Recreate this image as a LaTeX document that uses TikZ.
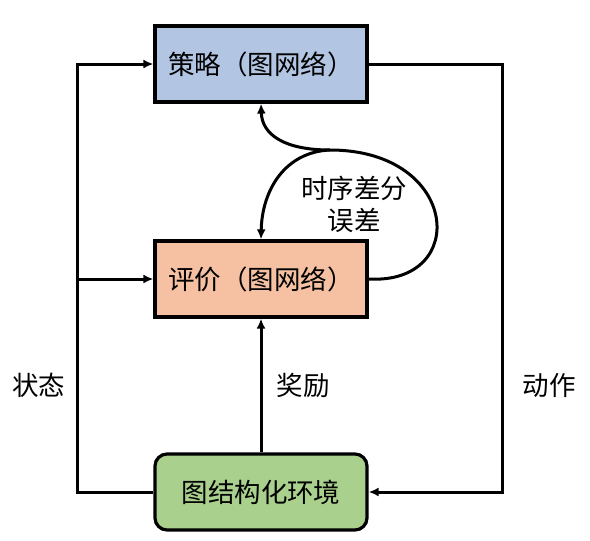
\documentclass[tikz,border=0pt]{standalone}
\usepackage{fontspec}
\newfontfamily\cjk{Noto Sans CJK SC}
\usetikzlibrary{arrows.meta}
\definecolor{polfill}{RGB}{178,197,226}
\definecolor{crifill}{RGB}{245,193,162}
\definecolor{envfill}{RGB}{170,208,142}
\tikzset{
  box/.style={draw=black, line width=3.2pt, minimum width=212pt, minimum height=76pt, inner sep=0pt, font=\cjk\fontsize{26.5}{30}\selectfont},
  conn/.style={line width=3pt, -{Latex[length=10pt,width=9pt]}},
  plain/.style={line width=3pt},
  lbl/.style={font=\cjk\fontsize{26.5}{32}\selectfont, inner sep=0pt, align=center}
}
\begin{document}
\begin{tikzpicture}[x=1pt,y=-1pt]
\useasboundingbox (0,0) rectangle (590,541);
\node[box, fill=polfill] (pol) at (261,64) {策略（图网络）};
\node[box, fill=crifill] (cri) at (261,279) {评价（图网络）};
\node[box, fill=envfill, rounded corners=12pt] (env) at (261,492) {图结构化环境};
\coordinate (lb) at (77,492);
\coordinate (lt) at (77,64);
\coordinate (lm) at (77,279);
\coordinate (rt) at (502,64);
\coordinate (rb) at (502,492);
\coordinate (td) at (330,150);
\draw[conn] (env.west) -- (lb) -- (lt) -- (pol.west);
\draw[conn] (lm) -- (cri.west);
\draw[conn] (pol.east) -- (rt) -- (rb) -- (env.east);
\draw[conn] (env.north) -- (cri.south);
\draw[plain] (cri.east) .. controls (470,285) and (460,150) .. (td);
\draw[conn] (td) .. controls (285,150) and (262,135) .. (pol.south);
\draw[conn] (td) .. controls (285,152) and (262,190) .. (cri.north);
\node[lbl] (tdl) at (354,204) {时序差分\\误差};
\node[lbl] (st) at (39,385) {状态};
\node[lbl] (rw) at (303,385) {奖励};
\node[lbl] (ac) at (549,385) {动作};
\end{tikzpicture}
\end{document}
